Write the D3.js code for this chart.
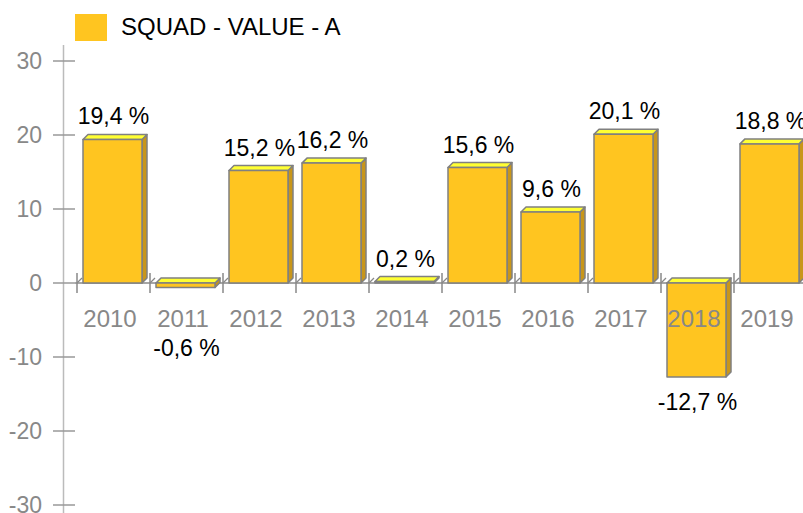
<!DOCTYPE html>
<html><head><meta charset="utf-8">
<script src="https://cdn.jsdelivr.net/npm/d3@7"></script>
<style>body{margin:0;background:#fff}svg{display:block;font-family:"Liberation Sans",Arial,sans-serif}</style>
</head><body><svg id="c" width="803" height="513"></svg>
<script>
const categories = ["2010","2011","2012","2013","2014","2015","2016","2017","2018","2019"];
const values = [19.4,-0.6,15.2,16.2,0.2,15.6,9.6,20.1,-12.7,18.8];
const yTicks = [30,20,10,0,-10,-20,-30];
const seriesName = "SQUAD - VALUE - A";

const svg = d3.select("#c");
const y = d3.scaleLinear().domain([-30,30]).range([505,61]);
const x = d3.scaleBand().domain(categories).range([77,807]);
const bw = 59, off = 6, d = 5;
const fmt = v => (v.toFixed(1).replace(".", ",")) + " %";

// legend
svg.append("rect").attr("x",75).attr("y",14).attr("width",32).attr("height",27).attr("fill","#FFC520");
svg.append("text").attr("x",121).attr("y",35).attr("font-size",24).attr("fill","#000").text(seriesName);

// y axis
svg.append("line").attr("x1",63.5).attr("x2",63.5).attr("y1",45).attr("y2",513).attr("stroke","#bbb").attr("stroke-width",1.5);
const yt = svg.append("g");
yTicks.forEach(t=>{
  yt.append("line").attr("x1",53).attr("x2",75).attr("y1",y(t)).attr("y2",y(t)).attr("stroke","#999").attr("stroke-width",1.5);
  yt.append("text").attr("x",42).attr("y",y(t)+8).attr("text-anchor","end").attr("font-size",23).attr("fill","#888").text(t);
});

// zero axis
const y0 = y(0);
svg.append("line").attr("x1",75).attr("x2",803).attr("y1",y0).attr("y2",y0).attr("stroke","#888").attr("stroke-width",1.5);
categories.forEach((c,i)=>{
  const b = x(c);
  svg.append("line").attr("x1",b).attr("x2",b).attr("y1",y0-10).attr("y2",y0+10).attr("stroke","#888").attr("stroke-width",1.5);
  svg.append("line").attr("x1",b).attr("x2",b+d).attr("y1",y0).attr("y2",y0-d).attr("stroke","#888").attr("stroke-width",1.2);
});

// bars
const g = svg.append("g");
categories.forEach((c,i)=>{
  const v = values[i];
  const bx = x(c)+off;
  const top = Math.min(y(v), y0), bot = Math.max(y(v), y0);
  const st = {stroke:"#808080","stroke-width":1.5,"stroke-linejoin":"round"};
  const side = g.append("polygon").attr("points",[[bx+bw,top],[bx+bw+d,top-d],[bx+bw+d,bot-d],[bx+bw,bot]].join(" ")).attr("fill","#C8961A");
  const tp = g.append("polygon").attr("points",[[bx,top],[bx+d,top-d],[bx+bw+d,top-d],[bx+bw,top]].join(" ")).attr("fill","#FFFF33");
  const fr = g.append("rect").attr("x",bx).attr("y",top).attr("width",bw).attr("height",bot-top).attr("fill","#FFC520");
  [side,tp,fr].forEach(s=>{for(const k in st) s.attr(k,st[k]);});
});

// category labels
categories.forEach(c=>{
  svg.append("text").attr("x",x(c)+33).attr("y",327).attr("text-anchor","middle").attr("font-size",24).attr("fill","#888").text(c);
});

// value labels
categories.forEach((c,i)=>{
  const v = values[i];
  const cx = x(c)+x.bandwidth()/2;
  const ly = v>=0 ? y(v)-15 : Math.max(y(v),323)+33;
  svg.append("text").attr("x",cx).attr("y",ly).attr("text-anchor","middle").attr("font-size",23).attr("fill","#000").text(fmt(v));
});
</script></body></html>
